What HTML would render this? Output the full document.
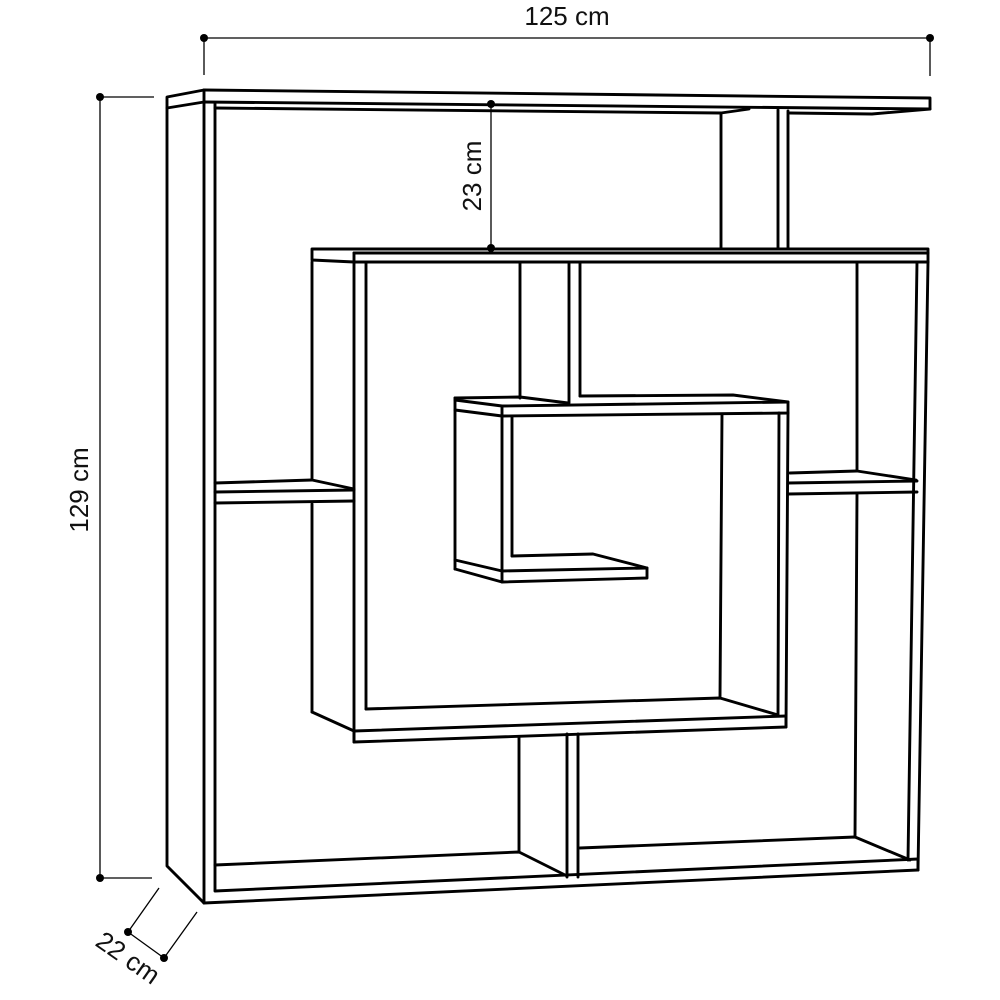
<!DOCTYPE html>
<html><head><meta charset="utf-8"><style>
html,body{margin:0;padding:0;background:#fff;}
svg{display:block}
text{font-family:"Liberation Sans","DejaVu Sans",sans-serif;font-size:26px;fill:#111}
</style></head><body>
<svg width="1000" height="1000" viewBox="0 0 1000 1000" xmlns="http://www.w3.org/2000/svg">
<g fill="none" stroke="#000" stroke-width="2.9" stroke-linejoin="round" stroke-linecap="round">
<polyline points="204,903 167,866 167,97 204,90"/>
<line x1="167" y1="108" x2="204" y2="102"/>
<line x1="204" y1="90" x2="204" y2="903"/>
<line x1="215" y1="104" x2="215" y2="890"/>
<polyline points="204,90 930,98 930,109 872,114 790,113"/>
<line x1="204" y1="102" x2="930" y2="109"/>
<polyline points="215,108 721,113 749,109"/>
<line x1="721" y1="113" x2="721" y2="248"/>
<line x1="778" y1="110" x2="778" y2="248"/>
<line x1="788" y1="111" x2="788" y2="248"/>
<polyline points="354,262 312,260 312,249 928,249 928,262 354,262"/>
<line x1="354" y1="253" x2="354" y2="262"/>
<line x1="354" y1="253" x2="928" y2="253"/>
<line x1="928" y1="262" x2="918" y2="870"/>
<line x1="917" y1="262" x2="908" y2="860"/>
<line x1="204" y1="903" x2="918" y2="870"/>
<line x1="215" y1="891" x2="918" y2="859"/>
<line x1="918" y1="859" x2="918" y2="870"/>
<polyline points="215,865 519,852 567,876"/>
<polyline points="580,848 855,837 910,860"/>
<line x1="519" y1="737" x2="519" y2="852"/>
<line x1="567" y1="734" x2="567" y2="877"/>
<line x1="578" y1="734" x2="578" y2="877"/>
<line x1="312" y1="262" x2="312" y2="480"/>
<line x1="312" y1="504" x2="312" y2="712"/>
<line x1="354" y1="262" x2="354" y2="742"/>
<line x1="366" y1="262" x2="366" y2="709"/>
<polyline points="312,712 354,731 354,742 786,727 786,716"/>
<line x1="354" y1="731" x2="786" y2="716"/>
<polyline points="366,709 720,698 778,715"/>
<polyline points="215,483 312,480 354,489"/>
<line x1="215" y1="492" x2="354" y2="490"/>
<line x1="215" y1="503" x2="354" y2="501"/>
<polyline points="790,473 857,471 916,480"/>
<line x1="788" y1="483" x2="917" y2="481"/>
<line x1="788" y1="494" x2="917" y2="492"/>
<line x1="857" y1="262" x2="857" y2="471"/>
<line x1="857" y1="494" x2="855" y2="837"/>
<line x1="520" y1="262" x2="520" y2="398"/>
<line x1="569" y1="262" x2="569" y2="403"/>
<line x1="580" y1="262" x2="580" y2="396"/>
<polyline points="455,398 520,397 568,403"/>
<polyline points="580,396 733,395 788,402 788,413 502,416 502,406 455,400"/>
<line x1="502" y1="406" x2="788" y2="402"/>
<line x1="455" y1="398" x2="455" y2="569"/>
<line x1="455" y1="410" x2="502" y2="416"/>
<line x1="502" y1="416" x2="502" y2="582"/>
<line x1="512" y1="416" x2="512" y2="556"/>
<line x1="788" y1="413" x2="786" y2="727"/>
<line x1="779" y1="413" x2="778" y2="715"/>
<line x1="722" y1="414" x2="720" y2="698"/>
<polyline points="455,569 502,582 647,578 647,568 593,554 512,556"/>
<polyline points="455,560 502,571 647,568"/>
</g>
<g stroke="#000" stroke-width="1.3" fill="none">
<line x1="204" y1="38" x2="930" y2="38"/>
<line x1="204" y1="38" x2="204" y2="75"/>
<line x1="930" y1="38" x2="930" y2="76"/>
<line x1="100" y1="97" x2="100" y2="878"/>
<line x1="100" y1="97" x2="154" y2="97"/>
<line x1="100" y1="878" x2="152" y2="878"/>
<line x1="491" y1="104" x2="491" y2="248"/>
<line x1="128" y1="932" x2="164" y2="958"/>
<line x1="128" y1="932" x2="159" y2="888"/>
<line x1="164" y1="958" x2="197" y2="912"/>
</g>
<g fill="#000">
<circle cx="204" cy="38" r="4"/><circle cx="930" cy="38" r="4"/>
<circle cx="100" cy="97" r="4"/><circle cx="100" cy="878" r="4"/>
<circle cx="491" cy="104" r="4"/><circle cx="491" cy="248" r="4"/>
<circle cx="128" cy="932" r="4"/><circle cx="164" cy="958" r="4"/>
</g>
<text x="567" y="25" text-anchor="middle">125 cm</text>
<text x="0" y="0" text-anchor="middle" transform="translate(88,490) rotate(-90)">129 cm</text>
<text x="0" y="0" text-anchor="middle" transform="translate(481,176) rotate(-90)">23 cm</text>
<text x="0" y="0" text-anchor="middle" transform="translate(123,965) rotate(35)">22 cm</text>
</svg>
</body></html>
